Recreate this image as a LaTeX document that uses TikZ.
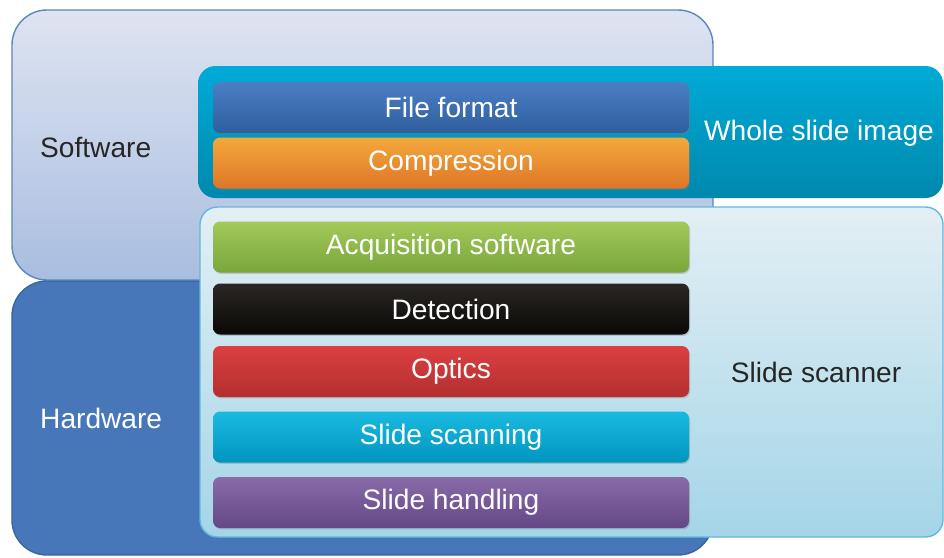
\documentclass[tikz,border=0pt]{standalone}
\usepackage{fontspec}
\setmainfont{Liberation Sans}
\usepackage{tikz}
\usetikzlibrary{positioning}
\usetikzlibrary{shadows}

\definecolor{swtop}{HTML}{DEE4F1}
\definecolor{swbot}{HTML}{A9BDE0}
\definecolor{swline}{HTML}{5A86C5}
\definecolor{hwfill}{HTML}{4777B8}
\definecolor{hwline}{HTML}{3565A5}
\definecolor{wsitop}{HTML}{00ABD7}
\definecolor{wsibot}{HTML}{0088AD}
\definecolor{sstop}{HTML}{E3EFF4}
\definecolor{ssbot}{HTML}{A4D5E8}
\definecolor{ssline}{HTML}{62B8DA}
% bar colours: top, middle, bottom
\definecolor{ffT}{HTML}{4A7FC4}\definecolor{ffM}{HTML}{3A6DB5}\definecolor{ffB}{HTML}{2F5E9E}
\definecolor{cpT}{HTML}{F3A83C}\definecolor{cpM}{HTML}{EC8A35}\definecolor{cpB}{HTML}{DE7628}
\definecolor{acT}{HTML}{A3C95A}\definecolor{acM}{HTML}{8DBB48}\definecolor{acB}{HTML}{79A63B}
\definecolor{dtT}{HTML}{2A2724}\definecolor{dtM}{HTML}{110E0A}\definecolor{dtB}{HTML}{0A0806}
\definecolor{opT}{HTML}{DC4041}\definecolor{opM}{HTML}{D03537}\definecolor{opB}{HTML}{B42E30}
\definecolor{scT}{HTML}{1ABAE0}\definecolor{scM}{HTML}{00ACDA}\definecolor{scB}{HTML}{0095BF}
\definecolor{hdT}{HTML}{8A6BAA}\definecolor{hdM}{HTML}{7A5A9C}\definecolor{hdB}{HTML}{644785}

\tikzset{
	layer/.style={draw, line width=0.8pt},
	bar/.style={rounded corners=4pt, minimum width=9.52cm, minimum height=1.02cm,
		text=white, font=\fontsize{16}{19}\selectfont,
		top color=#1T, middle color=#1M, bottom color=#1B,
		drop shadow={opacity=0.35, shadow xshift=0.6pt, shadow yshift=-0.8pt}},
	lbl/.style={font=\fontsize{16}{19}\selectfont}
}

\begin{document}
\begin{tikzpicture}
				\useasboundingbox (0,0) rectangle (18.88,-11.14);
				
				\node[layer, rounded corners=0.7cm, draw=swline, top color=swtop, bottom color=swbot, minimum width=14.02cm, minimum height=5.4cm] (SW) at (7.25,-2.9) {};
				\node[layer, rounded corners=0.7cm, draw=hwline, fill=hwfill, minimum width=14.02cm, minimum height=5.48cm] (HW) at (7.25,-8.36) {};
				\node[rounded corners=0.35cm, top color=wsitop, bottom color=wsibot, minimum width=14.9cm, minimum height=2.64cm] (WSI) at (11.41,-2.64) {};
				\node[layer, rounded corners=0.35cm, draw=ssline, top color=sstop, bottom color=ssbot, minimum width=14.86cm, minimum height=6.6cm] (SS) at (11.43,-7.44) {};
				
				\node[bar=ff] (A) at (9.02,-2.15) {File format};
				\node[bar=cp] (B) at (9.02,-3.26) {Compression};
				\node[bar=ac] (C) at (9.02,-4.94) {Acquisition software};
				\node[bar=dt] (D) at (9.02,-6.18) {Detection};
				\node[bar=op] (E) at (9.02,-7.43) {Optics};
				\node[bar=sc] (F) at (9.02,-8.74) {Slide scanning};
				\node[bar=hd] (G) at (9.02,-10.05) {Slide handling};
				
				\node[lbl, anchor=west, text=black!85] (L1) at (0.68,-2.94) {Software};
				\node[lbl, anchor=west, text=white] (L2) at (0.68,-8.36) {Hardware};
				\node[lbl, text=white] (L3) at (16.38,-2.66) {Whole slide image};
				\node[lbl, text=black!85] (L4) at (16.32,-7.44) {Slide scanner};
			\end{tikzpicture}
\end{document}
